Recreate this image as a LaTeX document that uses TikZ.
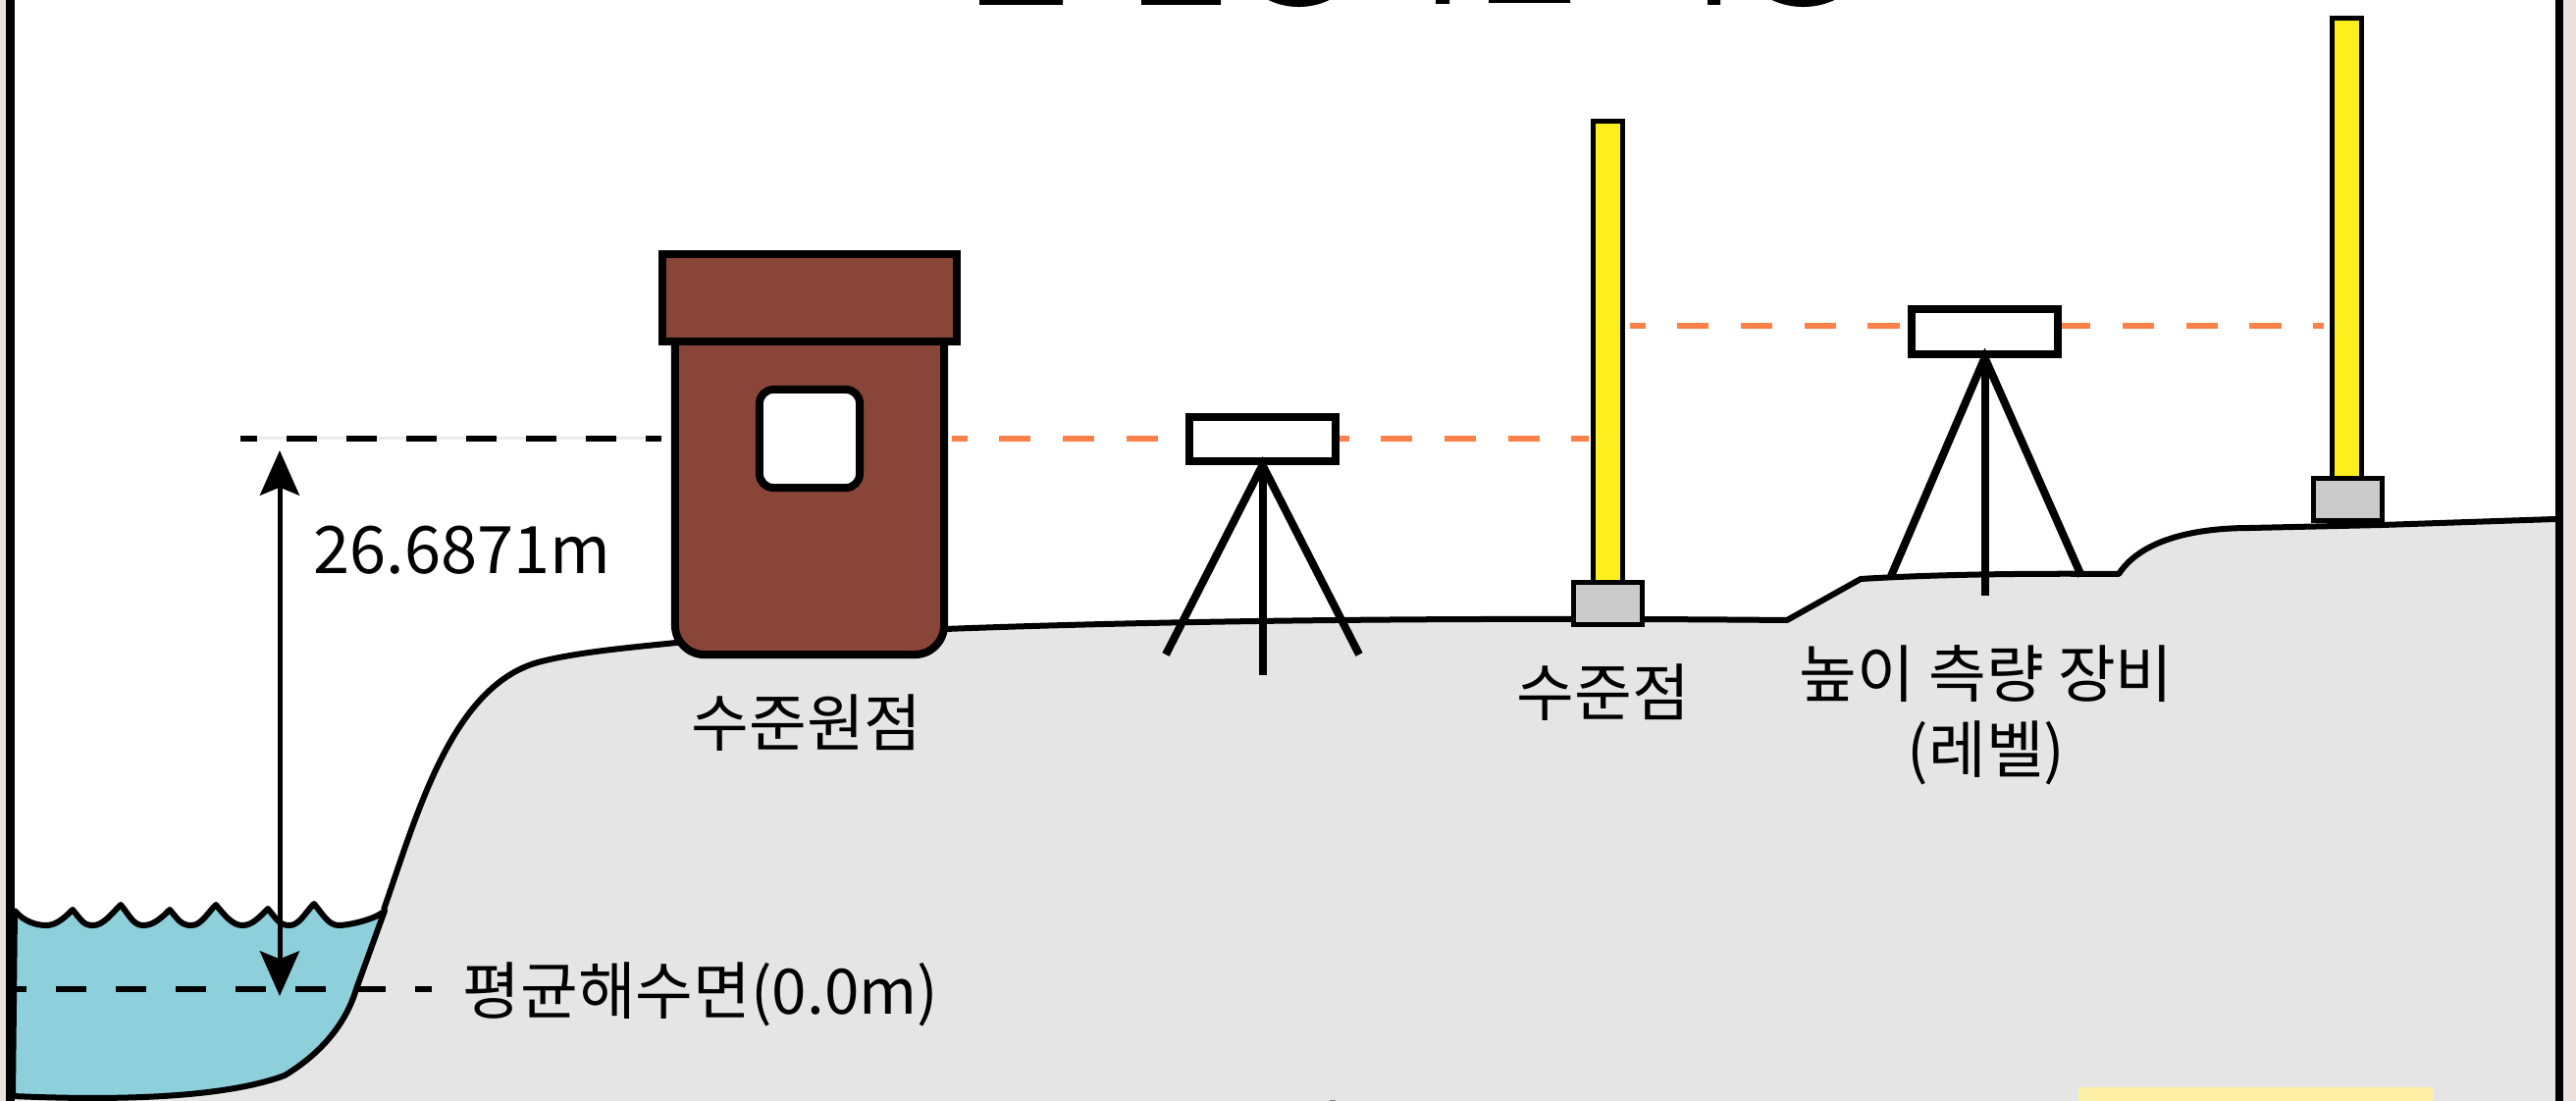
\documentclass[tikz,border=0pt]{standalone}
\usepackage{fontspec}
\setmainfont{Noto Sans CJK KR}
\usetikzlibrary{arrows.meta}
\usetikzlibrary{positioning}

\definecolor{margincol}{HTML}{EAE3DD}
\definecolor{groundcol}{HTML}{E5E5E5}
\definecolor{watercol}{HTML}{8DCFDB}
\definecolor{brickcol}{HTML}{8A4539}
\definecolor{staffcol}{HTML}{FDEF1E}
\definecolor{basecol}{HTML}{CBCBCB}
\definecolor{sightcol}{HTML}{FF8049}
\definecolor{notecol}{HTML}{FDF0A6}

\tikzset{
	house part/.style={rectangle,draw,line width=.08cm,fill=brickcol,inner sep=0},
	instrument/.style={rectangle,draw,line width=.08cm,fill=white,inner sep=0,minimum width=1.49cm,minimum height=.45cm},
	staff/.style={rectangle,draw,line width=.05cm,fill=staffcol,inner sep=0,minimum width=.30cm,minimum height=4.69cm},
	staff base/.style={rectangle,draw,line width=.05cm,fill=basecol,inner sep=0,minimum width=.70cm,minimum height=.43cm},
	sight line/.style={draw=sightcol,line width=.055cm,dash pattern=on .325cm off .323cm},
	level line/.style={line width=.055cm,dash pattern=on .31cm off .30cm},
	leg/.style={line width=.08cm},
	shore/.style={line width=.06cm,line join=round},
	label/.style={font=\fontsize{18.15pt}{21.9pt}\selectfont,align=center,inner sep=0}
}

% Land profile, left slope first
\newcommand{\landline}{
	(391,927) .. controls (425,830) and (460,700) .. (548,675)
	.. controls (585,665) and (640,660) .. (689,655)
	-- (963,641) .. controls (1200,632) and (1500,629) .. (1821,632)
	-- (1896,590) .. controls (1960,586) and (2050,584) .. (2159,585)
	.. controls (2185,545) and (2250,538) .. (2293,538)
	-- (2427,535) -- (2604,529)
}

\begin{document}
\begin{tikzpicture}[x=.01cm,y=-.01cm]
	\useasboundingbox (0,0) rectangle (2625,1122);

	% Sheet and ground
	\fill[margincol] (0,0) rectangle (2625,1122);
	\fill[white] (14,0) rectangle (2605,1122);
	\fill[groundcol] \landline -- (2604,1122) -- (14,1122) -- cycle;
	\draw[shore] \landline;

	% Sea, crest to valley to crest
	\draw[shore,fill=watercol] (15,928)
		\foreach \ax/\ay/\vx/\cx/\cy in {15/928/47/74/927, 74/927/95/123/922, 123/922/146/173/927, 173/927/195/220/922, 220/922/247/273/926, 273/926/295/320/921, 320/921/345/392/928}
		{ .. controls (\ax+9,\ay+11) and (\vx-10,943) .. (\vx,943) .. controls (\vx+10,943) and (\cx-9,\cy+9) .. (\cx,\cy) }
		-- (363,1008) .. controls (352,1045) and (325,1075) .. (290,1096)
		.. controls (250,1111) and (170,1124) .. (13,1117)
		-- cycle;

	% Bits of other artwork at the sheet edges
	\fill (998,0) rectangle (1083,5) (1163,0) rectangle (1244,5);
	\fill (1463,0) rectangle (1477,4) (1517,0) rectangle (1600,3) (1740,0) rectangle (1753,5);
	\fill (1323.5,-65) circle (.72cm) (1837.5,-69) circle (.76cm);
	\fill[notecol] (2118,1108) rectangle (2479,1122);
	\fill[gray] (1355,1121) rectangle (1361,1122);

	% Benchmark house
	\node(body)[house part,rounded corners=.3cm,minimum width=2.74cm,minimum height=3.67cm] at (825,483.5) {};
	\node(roof)[house part,minimum width=3.00cm,minimum height=.89cm] at (825,303.5) {};
	\node(window)[rectangle,draw,line width=.08cm,rounded corners=.14cm,fill=white,inner sep=0,minimum width=1.02cm,minimum height=1.00cm] at (825,447) {};

	% Staffs on their bases
	\node(staffa)[staff] at (1638.5,358.5) {};
	\node(basea)[staff base] at (1638.5,615) {};
	\node(staffb)[staff] at (2391,253) {};
	\node(baseb)[staff base] at (2392,509) {};

	% Lines of sight
	\coordinate(sightb) at (2022,332);
	\draw[sight line,dash phase=.17cm,shorten <=.04cm,shorten >=.02cm] (body.east |- window) -- (staffa.west |- window);
	\draw[sight line,dash phase=.17cm,shorten <=.05cm,shorten >=.06cm] (staffa.east |- sightb) -- (staffb.west |- sightb);

	% Levels on tripods
	\node(insta)[instrument] at (1286.5,447.5) {};
	\node(instb)[instrument] at (2022.5,338) {};
	\foreach \inst/\lx/\rx/\fy/\sy in {insta/1188/1385/667/688, instb/1927/2121/587/607} {
		\coordinate(\inst l) at (\lx,\fy);
		\coordinate(\inst r) at (\rx,\fy);
		\coordinate(\inst s) at (\inst.south |- 0,\sy);
		\draw[leg] (\inst l) -- (\inst.south) -- (\inst r);
		\draw[leg] (\inst.south) -- (\inst s);
	}

	% Height of the benchmark above the sea
	\coordinate(heighttop) at (245,447);
	\coordinate(sealeft) at (14,1008);
	\coordinate(sealright) at (440,1008);
	\coordinate(arrowtop) at (285,459);
	\coordinate(arrowbottom) at (285,1015);
	\draw[line width=.03cm,black!8,shorten >=.1cm] (heighttop) -- (body.west |- window);
	\draw[level line,dash phase=.14cm,shorten >=.1cm] (heighttop) -- (body.west |- window);
	\draw[level line,dash phase=.18cm] (sealeft) -- (sealright);
	\draw[line width=.05cm,{Stealth[length=13pt,width=11.4pt,inset=2.3pt]}-{Stealth[length=13pt,width=11.4pt,inset=2.3pt]}] (arrowtop) -- (arrowbottom);

	% Labels
	\node(heightlabel)[label,font=\fontsize{19pt}{22pt}\selectfont] at (471,561) {26.6871m};
	\node(originlabel)[label] at (822,737) {수준원점};
	\node(sealabel)[label] at (714,1013) {평균해수면(0.0m)};
	\node(pointlabel)[label] at (1634,706) {수준점};
	\node(levellabel)[label] at (2024,729) {높이 측량 장비\\(레벨)};

	% Frame
	\draw[line width=.08cm] (10.5,0) -- (10.5,1122) (2608,0) -- (2608,1122);
\end{tikzpicture}
\end{document}
